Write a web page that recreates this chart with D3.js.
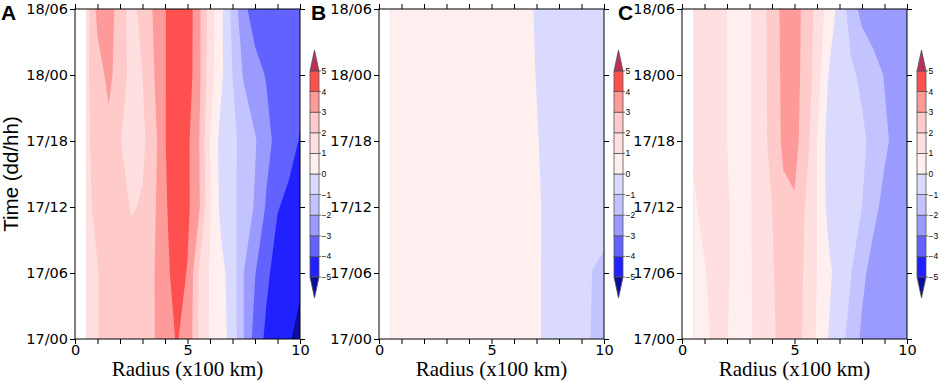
<!DOCTYPE html>
<html>
<head>
<meta charset="utf-8">
<script src="https://cdn.jsdelivr.net/npm/d3@7"></script>
<style>
  body { margin: 0; background: #fff; }
</style>
</head>
<body>
<div id="chart"></div>
<script>

// Grid of the data: radius (x100 km) and hours since 17/00
const radius = [0.5, 1.0, 1.5, 2.0, 2.5, 3.0, 3.5, 4.0, 4.5, 5.0, 5.5, 6.0, 6.5, 7.0, 7.5, 8.0, 8.5, 9.0, 9.5, 10.0]
const hours = [0, 6, 12, 18, 24, 30]
const timeLabels = ["17/00", "17/06", "17/12", "17/18", "18/00", "18/06"]
const radiusTicks = [0, 1, 2, 3, 4, 5, 6, 7, 8, 9, 10]
const radiusLabels = [0, 5, 10]

// Contour levels and fill colours (first colour is below -5, last is above 5)
const levels = [-5, -4, -3, -2, -1, 0, 1, 2, 3, 4, 5]
const levelColors = ["#0c0c9e", "#2121ff", "#6262ff", "#9a9aff", "#c3c3ff", "#dadaff",
                     "#ffefef", "#ffdfdf", "#ffcaca", "#ff9a9a", "#ff5050", "#bc3058"]

const panelNames = ["A", "B", "C"]

// One row per time step (17/00 first), one value per radius
const panelA = [
    [1.8, 1.95, 2.5, 2.55, 2.6, 2.7, 2.95, 3.5, 4.05, 3.8, 1.9, 0.9, 0.4, -0.4, -2.0, -3.4, -4.2, -4.5, -4.9, -5.3],
    [1.8, 1.95, 2.5, 2.55, 2.6, 2.7, 2.95, 3.7, 4.4, 3.95, 2.0, 0.9, 0.3, -0.5, -2.0, -2.95, -3.8, -4.4, -4.6, -4.8],
    [1.7, 2.3, 2.6, 2.5, 1.9, 2.1, 2.8, 3.85, 4.6, 4.2, 3.2, 1.1, -0.3, -0.8, -1.4, -2.1, -3.1, -3.95, -4.2, -4.4],
    [1.8, 2.4, 2.7, 2.05, 1.6, 1.8, 2.6, 3.95, 4.7, 4.2, 3.1, 1.0, -0.4, -0.8, -1.3, -1.9, -2.7, -3.3, -3.7, -4.05],
    [1.8, 2.6, 3.25, 2.5, 1.7, 2.0, 2.95, 3.95, 4.6, 4.55, 3.3, 1.4, 0.2, -1.0, -2.1, -2.7, -3.05, -3.5, -3.6, -3.7],
    [1.5, 3.3, 3.6, 2.4, 1.7, 2.3, 3.1, 3.95, 4.6, 4.6, 3.3, 1.5, 0.2, -1.3, -2.8, -3.4, -4.02, -3.7, -3.6, -3.5]
]

const panelB = [
    [0.5, 0.5, 0.5, 0.5, 0.5, 0.5, 0.5, 0.5, 0.5, 0.5, 0.5, 0.5, 0.5, 0.2, -0.3, -0.5, -0.6, -0.8, -1.05, -1.2],
    [0.5, 0.5, 0.5, 0.5, 0.5, 0.5, 0.5, 0.5, 0.5, 0.5, 0.5, 0.5, 0.5, 0.2, -0.3, -0.5, -0.6, -0.7, -1.02, -1.1],
    [0.5, 0.5, 0.5, 0.5, 0.5, 0.5, 0.5, 0.5, 0.5, 0.5, 0.5, 0.5, 0.5, 0.22, -0.3, -0.5, -0.55, -0.6, -0.7, -0.8],
    [0.5, 0.5, 0.5, 0.5, 0.5, 0.5, 0.5, 0.5, 0.5, 0.5, 0.5, 0.5, 0.5, 0.1, -0.4, -0.5, -0.55, -0.6, -0.6, -0.6],
    [0.5, 0.5, 0.5, 0.5, 0.5, 0.5, 0.5, 0.5, 0.5, 0.5, 0.5, 0.5, 0.5, -0.05, -0.4, -0.5, -0.5, -0.55, -0.55, -0.55],
    [0.5, 0.5, 0.5, 0.5, 0.5, 0.5, 0.5, 0.5, 0.5, 0.5, 0.5, 0.5, 0.5, -0.2, -0.4, -0.5, -0.5, -0.5, -0.5, -0.5]
]

const panelC = [
    [0.8, 0.8, 1.2, 1.02, 0.7, 0.9, 1.3, 1.8, 2.4, 2.6, 1.7, 0.9, -0.02, -0.7, -1.3, -2.2, -2.5, -2.6, -2.6, -2.7],
    [0.85, 0.95, 1.3, 1.1, 0.7, 0.9, 1.4, 1.9, 2.45, 2.65, 1.8, 1.0, 0.3, -0.6, -0.95, -1.75, -2.4, -2.5, -2.6, -2.6],
    [0.9, 1.2, 1.35, 1.1, 0.7, 0.9, 1.5, 2.0, 2.75, 2.9, 1.9, 1.0, -0.3, -0.5, -0.7, -1.0, -1.7, -2.3, -2.5, -2.6],
    [1.1, 1.3, 1.4, 1.0, 0.65, 0.9, 1.6, 2.3, 3.2, 3.3, 2.5, 1.0, -0.4, -0.5, -0.6, -0.8, -1.3, -1.8, -2.3, -2.4],
    [1.2, 1.35, 1.4, 1.0, 0.6, 0.9, 1.6, 2.35, 3.25, 3.4, 2.6, 1.5, 0.0, -0.5, -0.8, -1.2, -1.6, -2.05, -2.3, -2.4],
    [1.3, 1.4, 1.4, 1.0, 0.6, 0.9, 1.6, 2.4, 3.3, 3.5, 2.6, 1.7, 0.6, -0.3, -1.5, -2.3, -2.6, -2.6, -2.6, -2.6]
]

const panels = [panelA, panelB, panelC]

// Layout
const WIDTH = 941
const HEIGHT = 382
const PLOT = {TOP: 9, BOTTOM: 339, WIDTH: 225}
const PANEL_LEFT = [75, 379, 682]
const BAR = {GAP: 10, WIDTH: 9}

let svg = d3.select("#chart").append("svg")
    .attr("width", WIDTH)
    .attr("height", HEIGHT)

function drawPanel(grid, name, left, index) {

    let right = left + PLOT.WIDTH
    let x = d3.scaleLinear().domain([0, 10]).range([left, right])
    let y = d3.scaleLinear().domain([0, 30]).range([PLOT.BOTTOM, PLOT.TOP])

    // d3.contours puts grid value i at i+0.5, map that back to radius / hours
    let gx = d3.scaleLinear().domain([0.5, radius.length - 0.5]).range([radius[0], radius[radius.length - 1]])
    let gy = d3.scaleLinear().domain([0.5, hours.length - 0.5]).range([hours[0], hours[hours.length - 1]])
    let proj = d3.geoTransform({
        point: function(px, py) { this.stream.point(x(gx(px)), y(gy(py))) }
    })
    let path = d3.geoPath(proj)

    let contours = d3.contours()
        .size([radius.length, hours.length])
        .thresholds([-99].concat(levels))(grid.flat())

    let clipId = "clip" + name
    svg.append("clipPath").attr("id", clipId)
        .append("rect")
        .attr("x", x(radius[0]))
        .attr("y", y(hours[hours.length - 1]))
        .attr("width", x(radius[radius.length - 1]) - x(radius[0]))
        .attr("height", y(hours[0]) - y(hours[hours.length - 1]))

    svg.append("g")
        .attr("clip-path", "url(#" + clipId + ")")
        .selectAll("path")
        .data(contours)
        .enter()
        .append("path")
        .attr("d", path)
        .attr("fill", (d, i) => levelColors[i])

    // frame
    svg.append("rect")
        .attr("x", left).attr("y", PLOT.TOP)
        .attr("width", PLOT.WIDTH).attr("height", PLOT.BOTTOM - PLOT.TOP)
        .attr("fill", "none").attr("stroke", "#000").attr("stroke-width", 1)

    // axes
    let styleAxis = g => {
        g.select(".domain").remove()
        g.selectAll("line").attr("stroke", "#000")
        g.selectAll("text")
            .attr("font-family", "'DejaVu Sans', sans-serif")
            .attr("font-size", 14.5)
            .attr("fill", "#000")
    }

    svg.append("g")
        .attr("transform", "translate(0," + PLOT.BOTTOM + ")")
        .call(d3.axisBottom(x).tickValues(radiusTicks).tickSize(5).tickPadding(1)
            .tickFormat(d => radiusLabels.includes(d) ? d : ""))
        .call(styleAxis)

    svg.append("g")
        .attr("transform", "translate(0," + PLOT.TOP + ")")
        .call(d3.axisTop(x).tickValues(radiusTicks).tickSize(5).tickFormat(""))
        .call(styleAxis)

    svg.append("g")
        .attr("transform", "translate(" + left + ",0)")
        .call(d3.axisLeft(y).tickValues(hours).tickSize(5).tickPadding(2)
            .tickFormat((d, i) => timeLabels[i]))
        .call(styleAxis)

    svg.append("g")
        .attr("transform", "translate(" + right + ",0)")
        .call(d3.axisRight(y).tickValues(hours).tickSize(5).tickFormat(""))
        .call(styleAxis)

    // axis title
    svg.append("text")
        .attr("x", (left + right) / 2)
        .attr("y", 376)
        .attr("text-anchor", "middle")
        .attr("font-family", "'Liberation Serif', 'Times New Roman', serif")
        .attr("font-size", 21)
        .text("Radius (x100 km)")

    // panel letter
    svg.append("text")
        .attr("x", left - [74, 68, 64][index])
        .attr("y", 20)
        .attr("font-family", "'Liberation Sans', Arial, sans-serif")
        .attr("font-weight", "bold")
        .attr("font-size", 21)
        .text(name)

    // colour bar
    let bx = right + BAR.GAP
    let cb = d3.scaleLinear().domain([-5, 5]).range([277, 71])
    let bar = svg.append("g")

    bar.selectAll("rect")
        .data(d3.pairs(levels))
        .enter()
        .append("rect")
        .attr("x", bx)
        .attr("y", d => cb(d[1]))
        .attr("width", BAR.WIDTH)
        .attr("height", d => cb(d[0]) - cb(d[1]))
        .attr("fill", (d, i) => levelColors[i + 1])
        .attr("stroke", "#555")
        .attr("stroke-width", 0.8)

    let top = cb(levels[levels.length - 1])
    let bottom = cb(levels[0])
    bar.append("path")
        .attr("d", "M" + bx + "," + top + "L" + (bx + BAR.WIDTH / 2) + "," + (top - 21) + "L" + (bx + BAR.WIDTH) + "," + top + "Z")
        .attr("fill", levelColors[levelColors.length - 1])
        .attr("stroke", "#555").attr("stroke-width", 0.8)
    bar.append("path")
        .attr("d", "M" + bx + "," + bottom + "L" + (bx + BAR.WIDTH / 2) + "," + (bottom + 21) + "L" + (bx + BAR.WIDTH) + "," + bottom + "Z")
        .attr("fill", levelColors[0])
        .attr("stroke", "#555").attr("stroke-width", 0.8)

    bar.selectAll("line")
        .data(levels)
        .enter()
        .append("line")
        .attr("x1", bx + BAR.WIDTH).attr("x2", bx + BAR.WIDTH + 2)
        .attr("y1", d => cb(d)).attr("y2", d => cb(d))
        .attr("stroke", "#555").attr("stroke-width", 0.8)

    bar.selectAll("text")
        .data(levels)
        .enter()
        .append("text")
        .attr("x", bx + BAR.WIDTH + 2.5)
        .attr("y", d => cb(d) + 3)
        .attr("font-family", "'Liberation Sans', Arial, sans-serif")
        .attr("font-size", 8.5)
        .text(d => d < 0 ? "\u2212" + (-d) : d)
}

panels.forEach((grid, i) => drawPanel(grid, panelNames[i], PANEL_LEFT[i], i))

// y axis title, only on the first panel
svg.append("text")
    .attr("transform", "translate(18," + (PLOT.TOP + PLOT.BOTTOM) / 2 + ") rotate(-90)")
    .attr("text-anchor", "middle")
    .attr("font-family", "'Liberation Sans', Arial, sans-serif")
    .attr("font-size", 20.5)
    .text("Time (dd/hh)")

</script>
</body>
</html>
